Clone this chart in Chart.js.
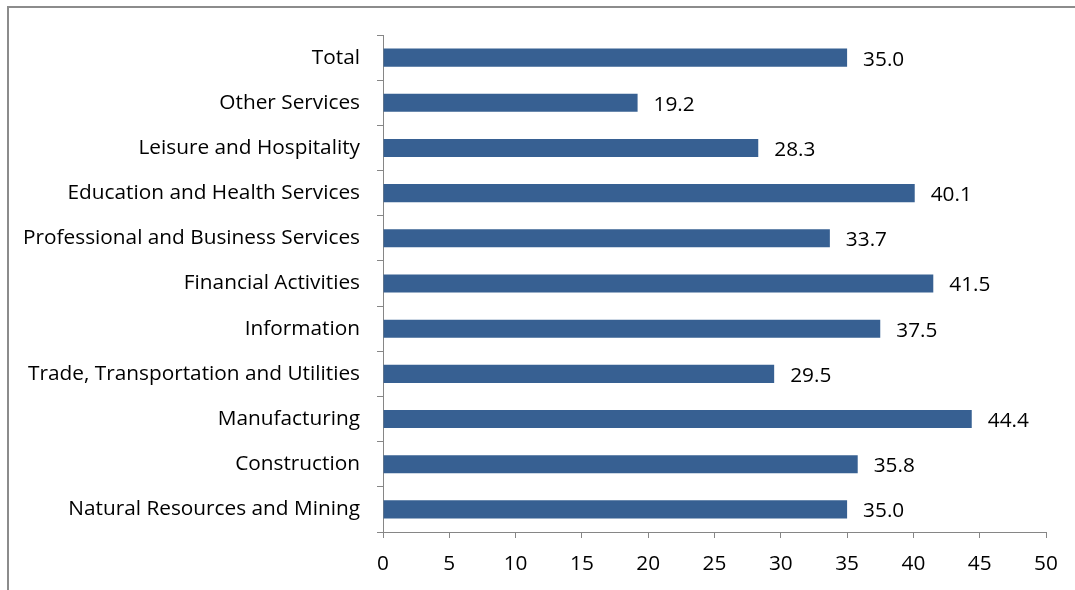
<!DOCTYPE html>
<html lang="en">
<head>
    <meta charset="UTF-8">
    <title>Employment by Industry</title>
    <style>
        body { margin: 0; background: #fff; }
        .frame {
            position: absolute;
            left: 7px; top: 6px;
            width: 1100px; height: 620px;
            border-left: 2px solid #8c8c8c;
            border-top: 2px solid #8c8c8c;
        }
        .wrap {
            position: absolute;
            left: 0; top: 0;
            width: 1075px; height: 590px;
        }
    </style>
    <script src="https://cdn.jsdelivr.net/npm/chart.js"></script>
</head>
<body>
    <div class="frame"></div>
    <div class="wrap"><canvas id="grafico"></canvas></div>
    <script>
        const industrias = [
            'Total',
            'Other Services',
            'Leisure and Hospitality',
            'Education and Health Services',
            'Professional and Business Services',
            'Financial Activities',
            'Information',
            'Trade, Transportation and Utilities',
            'Manufacturing',
            'Construction',
            'Natural Resources and Mining'
        ];
        const valores = [35.0, 19.2, 28.3, 40.1, 33.7, 41.5, 37.5, 29.5, 44.4, 35.8, 35.0];
        const ticksX = [0, 5, 10, 15, 20, 25, 30, 35, 40, 45, 50];

        const fuente = { family: '"Open Sans", sans-serif', size: 20.8 };

        // etiquetas de valor al final de cada barra
        const etiquetas = {
            id: 'etiquetas',
            afterDatasetsDraw(chart) {
                const ctx = chart.ctx;
                const meta = chart.getDatasetMeta(0);
                ctx.save();
                ctx.font = fuente.size + 'px ' + fuente.family;
                ctx.fillStyle = '#000';
                ctx.textBaseline = 'middle';
                ctx.textAlign = 'left';
                meta.data.forEach((bar, i) => {
                    ctx.fillText(valores[i].toFixed(1), bar.x + 16, bar.y + 2);
                });
                ctx.restore();
            }
        };

        new Chart(document.getElementById('grafico'), {
            type: 'bar',
            data: {
                labels: industrias,
                datasets: [{
                    data: valores,
                    backgroundColor: '#376092',
                    borderWidth: 0,
                    barPercentage: 0.4,
                    categoryPercentage: 1
                }]
            },
            options: {
                indexAxis: 'y',
                responsive: true,
                maintainAspectRatio: false,
                animation: false,
                layout: { padding: { top: 35, right: 29, left: 0, bottom: 0 } },
                plugins: {
                    legend: { display: false },
                    tooltip: { enabled: false }
                },
                scales: {
                    x: {
                        min: 0,
                        max: 50,
                        afterBuildTicks(scale) {
                            scale.ticks = ticksX.map(v => ({ value: v }));
                        },
                        afterFit(scale) { scale.height = 58; },
                        grid: {
                            drawOnChartArea: false,
                            tickLength: 6,
                            color: '#868686'
                        },
                        border: { color: '#868686', width: 1 },
                        ticks: { color: '#000', font: fuente, padding: 14, maxRotation: 0 }
                    },
                    y: {
                        afterFit(scale) { scale.width = 383; },
                        grid: {
                            drawOnChartArea: false,
                            offset: true,
                            tickLength: 6,
                            color: '#868686'
                        },
                        border: { color: '#868686', width: 1 },
                        ticks: { color: '#000', font: fuente, padding: 17 }
                    }
                }
            },
            plugins: [etiquetas]
        });
    </script>
</body>
</html>
